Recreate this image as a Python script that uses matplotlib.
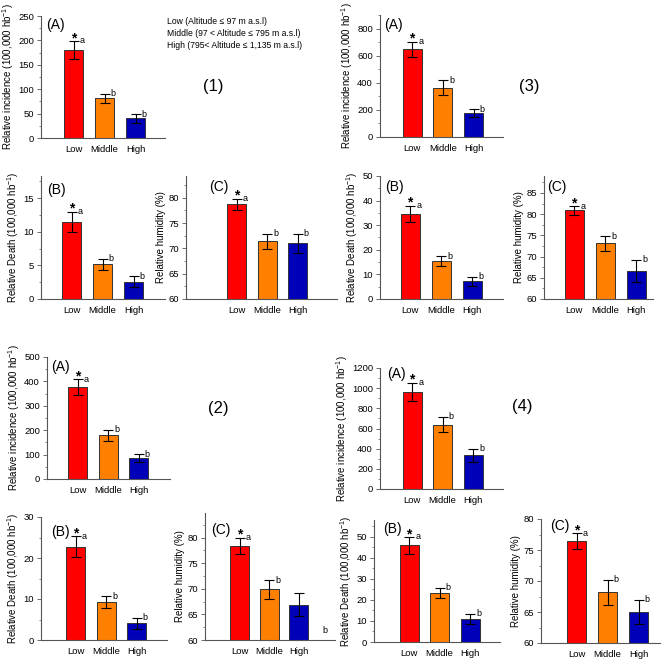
import matplotlib
matplotlib.use("Agg")
import matplotlib.pyplot as plt
from matplotlib.ticker import MultipleLocator, AutoMinorLocator

plt.rcParams['font.family'] = ['Liberation Sans', 'DejaVu Sans']
plt.rcParams['mathtext.default'] = 'regular'

categories = ["Low", "Middle", "High"]
colors = ["#FF0000", "#FF8000", "#0000B8"]

legend_lines = ["Low (Altitude \u2264 97 m a.s.l)",
                "Middle (97 < Altitude \u2264 795 m a.s.l)",
                "High (795< Altitude \u2264 1,135 m a.s.l)"]

# region (1)
r1_incidence = [180, 81, 40]
r1_incidence_err = [19, 10, 9]
r1_death = [11.5, 5.15, 2.6]
r1_death_err = [1.5, 0.85, 0.8]
r1_humidity = [78.7, 71.4, 71.0]
r1_humidity_err = [1.15, 1.5, 1.9]

# region (2)
r2_incidence = [376, 179, 86]
r2_incidence_err = [33, 23, 16]
r2_death = [22.8, 9.3, 4.1]
r2_death_err = [2.5, 1.4, 1.3]
r2_humidity = [78.4, 69.9, 66.9]
r2_humidity_err = [1.6, 1.8, 2.2]

# region (3)
r3_incidence = [648, 364, 175]
r3_incidence_err = [56, 55, 30]
r3_death = [34.7, 15.3, 7.2]
r3_death_err = [3.3, 2.0, 1.9]
r3_humidity = [80.9, 73.1, 66.6]
r3_humidity_err = [1.0, 1.7, 2.6]

# region (4)
r4_incidence = [965, 639, 333]
r4_incidence_err = [90, 76, 66]
r4_death = [45.9, 23.3, 11.1]
r4_death_err = [4.1, 2.5, 2.4]
r4_humidity = [76.4, 68.2, 65.0]
r4_humidity_err = [1.3, 2.0, 2.0]

lbl_inc = "Relative incidence (100,000 hb$^{-1}$)"
lbl_death = "Relative Death (100,000 hb$^{-1}$)"
lbl_hum = "Relative humidity (%)"

W, H = 669, 659
fig = plt.figure(figsize=(W / 100, H / 100), dpi=100)


def panel(box, centers, vals, errs, ylim, step, ylabel, tag, tag_xy,
          letters=("a", "b", "b")):
    # box = left, right, top, bottom of the axes in pixels
    l, r, t, b = box
    ax = fig.add_axes([l / W, 1 - b / H, (r - l) / W, (b - t) / H])
    sp = (centers[2] - centers[0]) / 2
    x = [0, 1, 2]
    base = ylim[0]
    ax.bar(x, [v - base for v in vals], bottom=base, width=19 / sp,
           color=colors, edgecolor="#333333", linewidth=0.7, zorder=2)
    ax.errorbar(x, vals, yerr=errs, fmt="none", ecolor="black",
                elinewidth=0.8, capsize=3.5, capthick=0.8, zorder=3)
    ax.set_xlim(-(centers[0] - l) / sp, (r - centers[0]) / sp)
    ax.set_ylim(*ylim)
    ax.yaxis.set_major_locator(MultipleLocator(step))
    ax.yaxis.set_minor_locator(AutoMinorLocator(2))
    ax.set_xticks(x)
    ax.set_xticklabels(categories, fontsize=6.8)
    ax.tick_params(axis="x", length=0, pad=5)
    ax.tick_params(axis="y", which="major", length=3, width=0.6,
                   labelsize=6.8, pad=2, color="#555555")
    ax.tick_params(axis="y", which="minor", length=1.8, width=0.5,
                   color="#555555")
    for s in ["top", "right"]:
        ax.spines[s].set_visible(False)
    for s in ["left", "bottom"]:
        ax.spines[s].set_color("#555555")
        ax.spines[s].set_linewidth(0.8)
    ax.set_ylabel(ylabel, fontsize=7.0, labelpad=1.5)
    ax.text(tag_xy[0], tag_xy[1], tag, transform=ax.transAxes,
            fontsize=10, ha="left", va="center")
    # significance marks
    ax.annotate("*", (0, vals[0] + errs[0]), xytext=(0, 2),
                textcoords="offset points", ha="center", va="center",
                fontsize=10, fontweight="bold")
    for i in range(3):
        if letters[i]:
            ax.annotate(letters[i], (i, vals[i] + errs[i]),
                        xytext=(4.5, 0), textcoords="offset points",
                        ha="left", va="center", fontsize=6.5)
    return ax


# (1)
panel((41, 165, 16, 138), (73.5, 104.5, 135.5), r1_incidence,
      r1_incidence_err, (0, 250), 50, lbl_inc, "(A)", (0.04, 0.93))
panel((41, 165, 176, 299), (71.5, 102.5, 133.5), r1_death,
      r1_death_err, (0, 18.3), 5, lbl_death, "(B)", (0.05, 0.89))
panel((186, 337, 176, 299), (236.5, 267, 297.5), r1_humidity,
      r1_humidity_err, (60, 84.3), 5, lbl_hum, "(C)", (0.15, 0.91))

# (2)
panel((47, 170, 357, 479), (77.5, 107.5, 138.5), r2_incidence,
      r2_incidence_err, (0, 500), 100, lbl_inc, "(A)", (0.03, 0.92))
panel((41, 167, 517, 640), (75.5, 105.5, 136.5), r2_death,
      r2_death_err, (0, 30), 10, lbl_death, "(B)", (0.08, 0.88))
ax2c = panel((205, 335, 513, 640), (239.5, 268.5, 298.5), r2_humidity,
             r2_humidity_err, (60, 84.8), 5, lbl_hum, "(C)", (0.05, 0.87),
             letters=("a", "b", ""))
ax2c.text(2.9, 61.8, "b", fontsize=6.5, ha="center", va="center")

# (3)
panel((380, 503, 15, 137), (412, 442.5, 473.5), r3_incidence,
      r3_incidence_err, (0, 900), 200, lbl_inc, "(A)", (0.03, 0.92))
panel((380, 503, 176, 299), (410, 441, 472), r3_death,
      r3_death_err, (0, 50), 10, lbl_death, "(B)", (0.04, 0.91))
panel((544, 653, 176, 299), (574, 605, 636), r3_humidity,
      r3_humidity_err, (60, 89), 5, lbl_hum, "(C)", (0.03, 0.91))

# (4)
panel((380, 503, 368, 489), (412, 442.5, 473), r4_incidence,
      r4_incidence_err, (0, 1200), 200, lbl_inc, "(A)", (0.06, 0.95))
panel((374, 500, 520, 642), (409, 439.5, 470), r4_death,
      r4_death_err, (0, 58), 10, lbl_death, "(B)", (0.07, 0.93))
panel((541, 660, 519, 643), (576.5, 606.5, 638.5), r4_humidity,
      r4_humidity_err, (60, 80), 5, lbl_hum, "(C)", (0.08, 0.94))

# group numbers
for txt, (px, py) in zip(["(1)", "(2)", "(3)", "(4)"],
                         [(213, 87), (218, 408), (529, 87), (522, 407)]):
    fig.text(px / W, 1 - py / H, txt, fontsize=12, ha="center", va="center")

# altitude legend
for i, line in enumerate(legend_lines):
    fig.text(167 / W, 1 - (22 + 12 * i) / H, line, fontsize=6.2,
             ha="left", va="center")

fig.savefig("out.png", dpi=100)
